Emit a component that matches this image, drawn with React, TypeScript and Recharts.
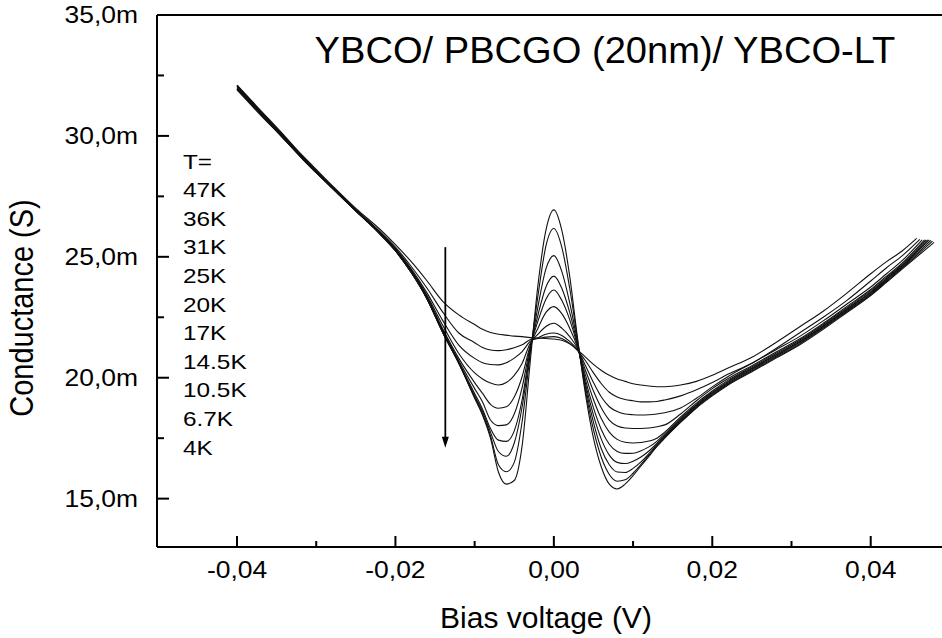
import React from 'react'
import { LineChart, Line, XAxis, YAxis, ReferenceLine } from 'recharts'

const FONT = '"Liberation Sans", Arial, Helvetica, sans-serif'

// bias grid in V (shared by every curve)
const BIAS = [
  -0.040, -0.037, -0.034, -0.031, -0.028, -0.025, -0.022, -0.020, -0.018, -0.016, -0.014, -0.012, -0.010,
  -0.009, -0.008, -0.007, -0.006, -0.005, -0.004, -0.003, -0.002, -0.001, 0,
  0.001, 0.002, 0.003, 0.004, 0.005, 0.006, 0.007, 0.008, 0.009, 0.010, 0.011, 0.012, 0.013, 0.014,
  0.016, 0.018, 0.020, 0.022, 0.025, 0.028, 0.031, 0.034, 0.037, 0.040, 0.042, 0.044,
]

const TEMPS = ['47K', '36K', '31K', '25K', '20K', '17K', '14.5K', '10.5K', '6.7K', '4K']

// conductance in mS
const G_47K = [32.05, 31.0, 29.95, 28.95, 27.95, 27.0, 26.15, 25.5, 24.8, 24.0, 23.15, 22.6, 22.2, 22.0, 21.87, 21.8, 21.76, 21.72, 21.7, 21.66, 21.64, 21.62, 21.6,
  21.55, 21.4, 21.15, 20.85, 20.55, 20.3, 20.1, 19.95, 19.85, 19.75, 19.7, 19.66, 19.63, 19.63, 19.7, 19.85, 20.1, 20.4, 20.85, 21.45, 22.1, 22.75, 23.5, 24.3, 24.8, 25.25]
const G_36K = [31.95, 30.9, 29.85, 28.85, 27.9, 26.95, 26.05, 25.4, 24.6, 23.7, 22.7, 21.85, 21.45, 21.25, 21.15, 21.12, 21.16, 21.24, 21.36, 21.57, 21.62, 21.68, 21.7,
  21.62, 21.42, 21.12, 20.7, 20.2, 19.75, 19.4, 19.2, 19.1, 19.05, 19.0, 19.0, 19.02, 19.08, 19.25, 19.5, 19.8, 20.15, 20.6, 21.2, 21.85, 22.5, 23.2, 24.0, 24.55, 25.05]
const G_31K = [32.1, 31.05, 30.0, 28.9, 27.9, 26.95, 26.05, 25.35, 24.5, 23.5, 22.35, 21.35, 20.8, 20.62, 20.55, 20.53, 20.62, 20.81, 21.08, 21.5, 21.65, 21.8, 21.85,
  21.75, 21.5, 21.15, 20.5, 19.8, 19.2, 18.8, 18.6, 18.5, 18.47, 18.46, 18.47, 18.5, 18.55, 18.75, 19.15, 19.62, 20.05, 20.6, 21.15, 21.7, 22.35, 23.05, 23.75, 24.3, 24.85]
const G_25K = [32.0, 30.95, 29.9, 28.85, 27.85, 26.9, 26.0, 25.3, 24.45, 23.4, 22.15, 21.0, 20.2, 19.95, 19.78, 19.7, 19.8, 20.1, 20.6, 21.42, 21.8, 22.12, 22.25,
  22.05, 21.7, 21.2, 20.3, 19.45, 18.75, 18.25, 18.0, 17.92, 17.9, 17.9, 17.92, 17.97, 18.05, 18.5, 19.05, 19.55, 19.97, 20.5, 21.05, 21.6, 22.25, 22.95, 23.65, 24.2, 24.75]
const G_20K = [31.9, 30.85, 29.85, 28.8, 27.85, 26.9, 26.0, 25.3, 24.4, 23.35, 22.0, 20.8, 19.8, 19.35, 18.9, 18.74, 18.8, 19.2, 20.05, 21.32, 22.05, 22.7, 22.94,
  22.65, 22.05, 21.25, 20.1, 19.1, 18.3, 17.75, 17.45, 17.33, 17.3, 17.32, 17.38, 17.5, 17.75, 18.38, 18.95, 19.45, 19.9, 20.45, 21.0, 21.55, 22.2, 22.9, 23.6, 24.15, 24.7]
const G_17K = [32.05, 31.0, 29.95, 28.9, 27.9, 26.95, 26.0, 25.3, 24.4, 23.3, 21.95, 20.7, 19.55, 19.0, 18.25, 18.02, 18.05, 18.5, 19.6, 21.25, 22.35, 23.25, 23.63,
  23.2, 22.4, 21.3, 19.9, 18.75, 17.85, 17.25, 16.95, 16.87, 16.88, 16.98, 17.14, 17.37, 17.68, 18.32, 18.9, 19.4, 19.85, 20.4, 20.95, 21.5, 22.15, 22.85, 23.55, 24.1, 24.65]
const G_14K5 = [31.95, 30.9, 29.85, 28.8, 27.85, 26.9, 26.0, 25.25, 24.35, 23.3, 21.9, 20.65, 19.35, 18.7, 17.9, 17.42, 17.37, 17.8, 19.1, 21.15, 22.6, 23.75, 24.2,
  23.7, 22.7, 21.35, 19.75, 18.45, 17.45, 16.8, 16.5, 16.45, 16.55, 16.72, 16.97, 17.28, 17.62, 18.27, 18.86, 19.36, 19.81, 20.37, 20.92, 21.47, 22.12, 22.82, 23.52, 24.07, 24.62]
const G_10K5 = [32.0, 30.95, 29.9, 28.85, 27.85, 26.9, 26.0, 25.25, 24.35, 23.25, 21.85, 20.6, 19.25, 18.6, 17.75, 16.95, 16.75, 17.3, 18.8, 21.05, 22.95, 24.5, 25.05,
  24.4, 23.1, 21.45, 19.6, 18.15, 17.05, 16.4, 16.1, 16.08, 16.25, 16.52, 16.86, 17.22, 17.57, 18.22, 18.82, 19.32, 19.77, 20.33, 20.88, 21.43, 22.08, 22.78, 23.48, 24.03, 24.58]
const G_6K7 = [32.1, 31.0, 29.95, 28.85, 27.9, 26.9, 25.95, 25.25, 24.35, 23.25, 21.85, 20.6, 19.2, 18.5, 17.6, 16.4, 16.11, 16.5, 18.2, 20.95, 23.4, 25.45, 26.17,
  25.4, 23.7, 21.55, 19.45, 17.85, 16.7, 16.0, 15.72, 15.78, 16.05, 16.42, 16.8, 17.18, 17.53, 18.18, 18.78, 19.28, 19.73, 20.29, 20.84, 21.39, 22.04, 22.74, 23.44, 23.99, 24.54]
const G_4K = [31.95, 30.9, 29.85, 28.8, 27.85, 26.9, 25.95, 25.25, 24.35, 23.25, 21.85, 20.6, 19.15, 18.45, 17.5, 16.1, 15.6, 15.75, 17.2, 20.6, 23.85, 26.1, 26.94,
  26.1, 24.2, 21.6, 19.3, 17.5, 16.3, 15.6, 15.4, 15.6, 15.95, 16.35, 16.75, 17.15, 17.5, 18.15, 18.75, 19.25, 19.7, 20.25, 20.8, 21.35, 22.0, 22.7, 23.4, 23.95, 24.5]

// last point of each sweep (they stop at slightly different bias)
const END_BIAS = [0.0458, 0.0462, 0.0465, 0.0468, 0.047, 0.0472, 0.0474, 0.0476, 0.0478, 0.048]
const END_G = [25.76, 25.72, 25.7, 25.7, 25.7, 25.7, 25.7, 25.68, 25.65, 25.6]

const CURVES = [G_47K, G_36K, G_31K, G_25K, G_20K, G_17K, G_14K5, G_10K5, G_6K7, G_4K]

const X_TICKS = [-0.04, -0.03, -0.02, -0.01, 0, 0.01, 0.02, 0.03, 0.04]
const X_MAJOR = [-0.04, -0.02, 0, 0.02, 0.04]
const X_LABELS = ['-0,04', '-0,02', '0,00', '0,02', '0,04']
const Y_TICKS = [15, 17.5, 20, 22.5, 25, 27.5, 30, 32.5, 35]
const Y_MAJOR = [15, 20, 25, 30, 35]
const Y_LABELS = ['15,0m', '20,0m', '25,0m', '30,0m', '35,0m']

// arrow annotation (bias, conductance)
const ARROW = [{ x: -0.0137, y: 25.4 }, { x: -0.0137, y: 17.1 }]

const series = CURVES.map((g, k) =>
  BIAS.map((v, i) => ({ v, g: g[i] })).concat({ v: END_BIAS[k], g: END_G[k] })
)

const XTick = (props: any) => {
  const { x, y, payload } = props
  const idx = X_MAJOR.findIndex(m => Math.abs(m - payload.value) < 1e-9)
  const major = idx >= 0
  return (
    <g>
      <line x1={x} y1={y} x2={x} y2={y - (major ? 11 : 6)} stroke="#000" strokeWidth={2} />
      {major && (
        <text transform={`translate(${x} ${y + 31}) scale(1.15 1)`} textAnchor="middle"
          fontSize={23} fontFamily={FONT} fill="#000">{X_LABELS[idx]}</text>
      )}
    </g>
  )
}

const YTick = (props: any) => {
  const { x, y, payload } = props
  const idx = Y_MAJOR.indexOf(payload.value)
  const major = idx >= 0
  return (
    <g>
      <line x1={x} y1={y} x2={x + (major ? 12 : 7)} y2={y} stroke="#000" strokeWidth={2} />
      {major && (
        <text transform={`translate(${x - 19} ${y + 8}) scale(1.15 1)`} textAnchor="end"
          fontSize={23} fontFamily={FONT} fill="#000">{Y_LABELS[idx]}</text>
      )}
    </g>
  )
}

const Arrow = (p: any) => {
  const top = Math.min(p.y1, p.y2)
  const bot = Math.max(p.y1, p.y2)
  const x = p.x1
  return (
    <g>
      <line x1={x} y1={top} x2={x} y2={bot - 8} stroke="#000" strokeWidth={1.8} />
      <polygon points={`${x - 3.5},${bot - 11} ${x + 3.5},${bot - 11} ${x},${bot}`} fill="#000" />
    </g>
  )
}

export default function App() {
  return (
    <div style={{ position: 'absolute', left: 0, top: 0, width: 942, height: 638, background: '#fff' }}>
      <LineChart width={942} height={638} margin={{ top: 15, right: 0, bottom: 0, left: 0 }}>
        <XAxis type="number" dataKey="v" domain={[-0.0501, 0.049]} allowDataOverflow ticks={X_TICKS}
          interval={0} height={91} tickSize={0} tickMargin={0} tickLine={false}
          axisLine={{ stroke: '#000', strokeWidth: 2 }} tick={<XTick />} />
        <YAxis type="number" domain={[13, 35]} allowDataOverflow ticks={Y_TICKS} interval={0}
          width={157} tickSize={0} tickMargin={0} tickLine={false}
          axisLine={{ stroke: '#000', strokeWidth: 2 }} tick={<YTick />} />
        <ReferenceLine y={35} stroke="#000" strokeWidth={2} />
        {series.map((d, k) => (
          <Line key={TEMPS[k]} name={TEMPS[k]} data={d} dataKey="g" type="monotone" dot={false}
            stroke="#111" strokeWidth={1.1} isAnimationActive={false} />
        ))}
        <ReferenceLine segment={ARROW} shape={Arrow} />
      </LineChart>
      <svg width={942} height={638} style={{ position: 'absolute', left: 0, top: 0, pointerEvents: 'none' }}
        fontFamily={FONT} fill="#000">
        <text transform="translate(605 63) scale(1.03 1)" textAnchor="middle" fontSize={37}>
          YBCO/ PBCGO (20nm)/ YBCO-LT
        </text>
        <text x={546} y={628} textAnchor="middle" fontSize={30}>Bias voltage (V)</text>
        <text transform="translate(33 308) rotate(-90) scale(1 1.12)" textAnchor="middle" fontSize={29}>
          Conductance (S)
        </text>
        {['T=', ...TEMPS].map((t, i) => (
          <text key={t} transform={`translate(183 ${168.5 + i * 28.6}) scale(1.16 1)`} fontSize={21}>{t}</text>
        ))}
      </svg>
    </div>
  )
}
